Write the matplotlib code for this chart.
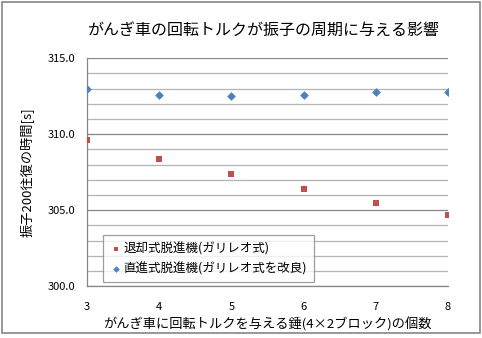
import matplotlib
matplotlib.use("Agg")
import matplotlib.pyplot as plt
from matplotlib.patches import Rectangle
from matplotlib.ticker import MultipleLocator, FormatStrFormatter

plt.rcParams['font.family'] = ['Noto Sans CJK JP', 'DejaVu Sans']

# Number of weights (4x2 blocks) driving the escape wheel
weights = [3, 4, 5, 6, 7, 8]
# Time for 200 swings [s]
recoil = [309.6, 308.4, 307.4, 306.4, 305.5, 304.7]      # 退却式脱進機(ガリレオ式)
deadbeat = [313.0, 312.6, 312.5, 312.6, 312.8, 312.8]    # 直進式脱進機(ガリレオ式を改良)

series_names = ['退却式脱進機(ガリレオ式)', '直進式脱進機(ガリレオ式を改良)']
title = 'がんぎ車の回転トルクが振子の周期に与える影響'
xlabel = 'がんぎ車に回転トルクを与える錘(4×2ブロック)の個数'
ylabel = '振子200往復の時間[s]'

fig = plt.figure(figsize=(4.82, 3.38), dpi=100)
ax = fig.add_axes([0.1805, 0.153, 0.749, 0.675])

ax.scatter(weights, recoil, marker='s', s=22, color='#C0504D', zorder=3,
           label=series_names[0], linewidths=0)
ax.scatter(weights, deadbeat, marker='D', s=20, color='#4F81BD', zorder=3,
           label=series_names[1], linewidths=0)

ax.set_xlim(3, 8)
ax.set_ylim(300, 315)
ax.xaxis.set_major_locator(MultipleLocator(1))
ax.yaxis.set_major_locator(MultipleLocator(5))
ax.yaxis.set_minor_locator(MultipleLocator(1))
ax.yaxis.set_major_formatter(FormatStrFormatter('%.1f'))

ax.grid(which='minor', axis='y', color='#B3B3B3', linewidth=0.9)
ax.grid(which='major', axis='y', color='#868686', linewidth=0.9)
ax.set_axisbelow(True)

for side in ('top', 'right'):
    ax.spines[side].set_visible(False)
for side in ('left', 'bottom'):
    ax.spines[side].set_color('#868686')
    ax.spines[side].set_linewidth(0.9)

ax.tick_params(axis='x', length=0, labelsize=8, pad=11)
ax.tick_params(axis='y', which='major', length=0, labelsize=8, pad=8.5)
ax.tick_params(axis='y', which='minor', length=0)

ax.set_xlabel(xlabel, fontsize=9.5, labelpad=4)
ax.set_ylabel(ylabel, fontsize=9.5, labelpad=9)
fig.text(0.548, 0.91, title, ha='center', va='center', fontsize=11.5)

leg = ax.legend(loc='lower left', bbox_to_anchor=(0.2137, 0.165),
                bbox_transform=fig.transFigure, fontsize=9, frameon=True,
                fancybox=False, edgecolor='#868686', handletextpad=0.1,
                handlelength=1.0, borderpad=0.55, labelspacing=0.55,
                borderaxespad=0, markerscale=0.75)
leg.get_frame().set_linewidth(0.9)

fig.patches.append(Rectangle((0.004, 0.014), 0.992, 0.98, transform=fig.transFigure,
                             fill=False, edgecolor='#868686', linewidth=1.2))

fig.savefig('out.png', dpi=100)
